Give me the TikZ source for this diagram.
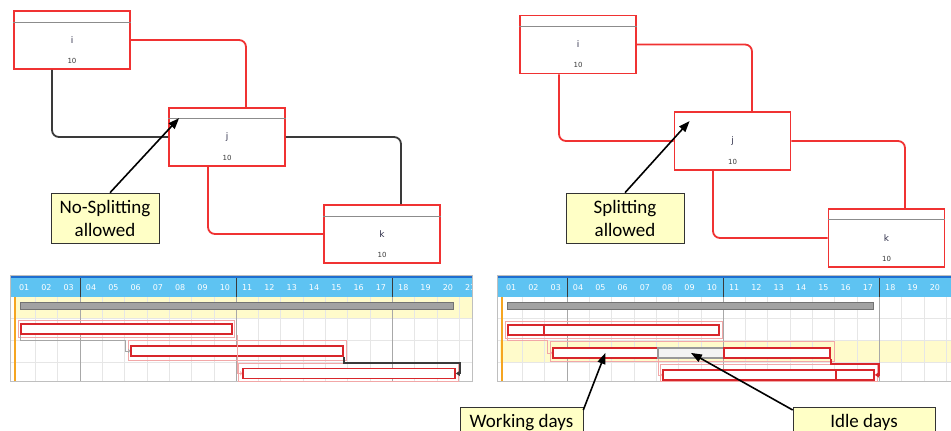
\documentclass[tikz,border=0pt]{standalone}
\usepackage{fontspec}
\setmainfont{Carlito}
\newfontfamily\netfont{DejaVu Sans}
\usetikzlibrary{arrows.meta, positioning, calc}
\definecolor{NetRed}{HTML}{F03232}
\definecolor{NetDark}{HTML}{3A3A3A}
\definecolor{NetText}{HTML}{33334D}
\definecolor{NoteFill}{HTML}{FFFFC6}
\definecolor{HeadBlue}{HTML}{5EC3F2}
\definecolor{HeadLine}{HTML}{1F6FCF}
\definecolor{BandYellow}{HTML}{FFFBCB}
\definecolor{GridGrey}{HTML}{E6E6E6}
\definecolor{WeekGrey}{HTML}{A8A8A8}
\definecolor{BarRed}{HTML}{D8262B}
\definecolor{HaloPink}{HTML}{F2A7A7}
\definecolor{SumGrey}{HTML}{A2A2A2}
\definecolor{TodayOrange}{HTML}{F5A521}
\definecolor{IdleGrey}{HTML}{F3F3F3}
\tikzset{
  tbox/.style={draw=NetRed, line width=1.8pt, fill=white, minimum width=116pt,
    minimum height=58pt, inner sep=0pt, text=NetText,
    font=\netfont\fontsize{9}{10}\selectfont},
  num/.style={anchor=south, yshift=3pt, text=NetDark,
    font=\netfont\fontsize{7}{8}\selectfont},
  hline/.style={draw=black!45, line width=0.8pt},
  rlink/.style={draw=NetRed, line width=1.8pt, rounded corners=7pt},
  klink/.style={draw=NetDark, line width=1.8pt, rounded corners=7pt},
  note/.style={draw=black!80, fill=NoteFill, line width=0.6pt, align=center,
    inner sep=0pt, font=\fontsize{19}{23}\selectfont},
  pointer/.style={-{Triangle[length=11pt, width=8pt]}, line width=1.6pt},
  daylbl/.style={text=white, font=\netfont\fontsize{8}{9}\selectfont},
  bar/.style={draw=BarRed, line width=1.8pt, fill=white, minimum height=10pt,
    inner sep=0pt, anchor=north west},
  idlebar/.style={bar, draw=black!40, fill=IdleGrey},
  sumbar/.style={draw=black!55, line width=1pt, fill=SumGrey, minimum height=7pt,
    inner sep=0pt, anchor=north west},
  halo/.style={draw=HaloPink, line width=0.6pt},
  glink/.style={draw=black!35, line width=0.7pt, -{To[length=2pt]}},
  plink/.style={draw=HaloPink, line width=0.7pt, -{To[length=2pt]}},
  blink/.style={draw=NetDark, line width=1.4pt, -{Triangle[length=4pt, width=5pt]}},
  redlink/.style={draw=BarRed, line width=1.4pt, -{Triangle[length=4pt, width=5pt]}},
}

\begin{document}
\begin{tikzpicture}[x=1pt, y=-1pt]
  \useasboundingbox (0,0) rectangle (951,431);

  % network, no splitting
  \node[tbox, label={[num]south:10}] (li) at (72,40) {i};
  \node[tbox, label={[num]south:10}] (lj) at (227,137) {j};
  \node[tbox, label={[num]south:10}] (lk) at (382,234) {k};
  \draw[hline] ([yshift=-12pt]li.north west) -- ([yshift=-12pt]li.north east);
  \draw[hline] ([yshift=-11pt]lj.north west) -- ([yshift=-11pt]lj.north east);
  \draw[hline] ([yshift=-12pt]lk.north west) -- ([yshift=-12pt]lk.north east);
  \draw[rlink] (li.east) -| ([xshift=19pt]lj.north);
  \draw[klink] ([xshift=-20pt]li.south) |- (lj.west);
  \draw[klink] (lj.east) -| ([xshift=19pt]lk.north);
  \draw[rlink] ([xshift=-19pt]lj.south) |- (lk.west);

  % network, splitting
  \node[tbox, label={[num]south:10}] (ri) at (578,44.5) {i};
  \node[tbox, label={[num]south:10}] (rj) at (732.5,141) {j};
  \node[tbox, label={[num]south:10}] (rk) at (886.5,238) {k};
  \draw[hline, line width=1.2pt] ([yshift=-12pt]ri.north west) -- ([yshift=-12pt]ri.north east);
  \draw[hline] ([yshift=-11pt]rk.north west) -- ([yshift=-11pt]rk.north east);
  \draw[rlink] (ri.east) -| ([xshift=19.5pt]rj.north);
  \draw[rlink] ([xshift=-19pt]ri.south) |- (rj.west);
  \draw[rlink] (rj.east) -| ([xshift=18.5pt]rk.north);
  \draw[rlink] ([xshift=-19.5pt]rj.south) |- (rk.west);

  % gantt backgrounds
  \fill[BandYellow] (15,297) rectangle (472,318);
  \fill[BandYellow] (500,340) rectangle (951,362);
  \foreach \gx/\gr/\gn in {13/472/21, 500/951/20} {
    \foreach \d in {1,...,20}
      \draw[GridGrey] (\gx+\d*22.3,297) -- (\gx+\d*22.3,381);
    \foreach \y in {318,340,362}
      \draw[GridGrey] (\gx-3,\y) -- (\gr,\y);
    \foreach \d in {3,10,17}
      \draw[WeekGrey] (\gx+\d*22.3,297) -- (\gx+\d*22.3,381);
    \fill[HeadBlue] (\gx-3,277) rectangle (\gr,297);
    \fill[HeadLine] (\gx-3,275) rectangle (\gr,278);
    \foreach \d in {3,10,17}
      \draw[NetDark] (\gx+\d*22.3,278) -- (\gx+\d*22.3,297);
    \begin{scope}
      \clip (\gx-3,277) rectangle (\gr,297);
      \foreach \d in {1,...,\gn}
        \node[daylbl] at (\gx+\d*22.3-11.15,287.5) {\ifnum\d<10 0\fi\d};
    \end{scope}
    \draw[black!25] (\gx-3,275) rectangle (\gr,381);
    \draw[TodayOrange, line width=1.6pt] (\gx+2,297) -- (\gx+2,381);
  }

  % gantt, no splitting
  \draw[halo] (18,320) rectangle (234,337);
  \draw[halo] (128,340) rectangle (346,360);
  \draw[halo] (238,363) rectangle (458,381);
  \node[sumbar, minimum width=433pt] (ls) at (20,302) {};
  \node[bar, minimum width=211pt] (lb2) at (20,323) {};
  \node[bar, minimum width=212pt] (lb3) at (130,345) {};
  \node[bar, minimum width=212pt] (lb4) at (242,367.5) {};
  \draw[glink] (lb2.south west) -- ++(0,6) -| ([xshift=-5pt]lb3.west) -- (lb3.west);
  \draw[plink] ([xshift=5pt]lb2.south east) |- (lb4.west);
  \draw[blink] (lb3.south east) -- ++(0,6) -| ([xshift=4pt]lb4.east) -- (lb4.east);

  % gantt, splitting
  \draw[halo] (505,321) rectangle (722,338);
  \draw[halo] (550,341) rectangle (834,361);
  \draw[halo] (660,364) rectangle (877,381);
  \node[sumbar, minimum width=366pt] (rs) at (507,302) {};
  \node[bar, minimum width=211pt] (rb2) at (507,324) {};
  \draw[BarRed, line width=1.6pt] ([xshift=37pt]rb2.north west) -- ([xshift=37pt]rb2.south west);
  \node[bar, minimum width=105pt] (rb3a) at (552,347) {};
  \node[idlebar, minimum width=66pt] (rb3i) at (657,347) {};
  \node[bar, minimum width=106pt] (rb3b) at (723,347) {};
  \node[bar, minimum width=211pt] (rb4) at (662,369) {};
  \draw[BarRed, line width=1.6pt] ([xshift=174pt]rb4.north west) -- ([xshift=174pt]rb4.south west);
  \draw[plink] (rb2.south west) -- ++(0,5) -| ([xshift=-5pt]rb3a.west) -- (rb3a.west);
  \draw[plink] (rb3a.south east) |- (rb4.west);
  \draw[redlink] (rb3b.south east) -- ++(0,5) -| ([xshift=4pt]rb4.east) -- (rb4.east);

  % callouts
  \node[note, minimum width=108pt, minimum height=50pt] (lnote) at (105,218) {No-Splitting\\allowed};
  \node[note, minimum width=118pt, minimum height=50pt] (rnote) at (625,218) {Splitting\\allowed};
  \node[note, minimum width=123pt, minimum height=30pt, anchor=north] (wnote) at (521.5,407) {Working days};
  \node[note, minimum width=142pt, minimum height=30pt, anchor=north] (inote) at (864,407) {Idle days};
  \draw[pointer] ([xshift=5pt]lnote.north) -- ([xshift=11pt, yshift=-11pt]lj.north west);
  \draw[pointer] (rnote.north) -- ([xshift=16pt, yshift=-10pt]rj.north west);
  \draw[pointer] ([yshift=-3pt]wnote.north east) -- (rb3a.center);
  \draw[pointer] ([yshift=-3pt]inote.north west) -- (rb3i.center);
\end{tikzpicture}
\end{document}
